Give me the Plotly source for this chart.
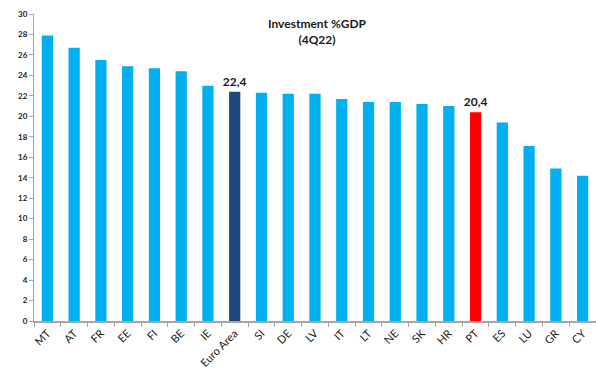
import plotly.graph_objects as go

# ── Data ──────────────────────────────────────────────────────────────────────
countries = ["MT", "AT", "FR", "EE", "FI", "BE", "IE", "Euro Area", "SI", "DE", "LV",
             "IT", "LT", "NE", "SK", "HR", "PT", "ES", "LU", "GR", "CY"]
invest_gdp = [27.9, 26.7, 25.5, 24.9, 24.7, 24.4, 23.0, 22.4, 22.3, 22.2, 22.2,
              21.7, 21.4, 21.4, 21.2, 21.0, 20.4, 19.4, 17.1, 14.9, 14.2]
y_ticks = list(range(0, 31, 2))
highlight = {"Euro Area": "#1F497D", "PT": "#FF0000"}

# ── Style ─────────────────────────────────────────────────────────────────────
_BLUE = "#00B0F0"
_AXIS = "#A6A6A6"
_TEXT = "#1a1a1a"
_FONT = "Lato, 'Open Sans', sans-serif"

colors = [highlight.get(c, _BLUE) for c in countries]
labels = [f"{v:.1f}".replace(".", ",") if c in highlight else "" for c, v in zip(countries, invest_gdp)]

fig = go.Figure(go.Bar(
    x=countries,
    y=invest_gdp,
    marker=dict(color=colors, line=dict(width=0)),
    text=labels,
    textposition="outside",
    constraintext="none",
    textfont=dict(family=_FONT, size=12, color=_TEXT, weight="bold"),
    cliponaxis=False,
))

fig.update_layout(
    width=596, height=374,
    font=dict(family=_FONT, color=_TEXT),
    plot_bgcolor="white", paper_bgcolor="white",
    showlegend=False,
    margin=dict(l=34, r=0, t=14, b=53),
    bargap=0.58,
    annotations=[dict(
        text="<b>Investment %GDP</b><br><b>(4Q22)</b>",
        x=0.505, y=1.0, xref="paper", yref="paper",
        xanchor="center", yanchor="top", showarrow=False,
        font=dict(family=_FONT, size=12, color=_TEXT),
    )],
    xaxis=dict(
        automargin=False,
        showline=True, linecolor=_AXIS, linewidth=1.5,
        ticks="outside", tickson="boundaries", ticklen=4, tickcolor=_AXIS,
        tickangle=-45, tickfont=dict(size=11, color=_TEXT),
        showgrid=False,
    ),
    yaxis=dict(
        automargin=False,
        range=[0, 30], tickvals=y_ticks,
        showline=True, linecolor=_AXIS, linewidth=1,
        ticks="outside", ticklen=4, tickcolor=_AXIS,
        tickfont=dict(size=8, color=_TEXT, weight="bold"),
        showgrid=False, zeroline=False,
    ),
)

# the page body has a default 8px margin; drop it so the figure sits at 0,0
fig.write_html("out.html", config={"displayModeBar": False},
               post_script="document.body.style.margin='0';")
